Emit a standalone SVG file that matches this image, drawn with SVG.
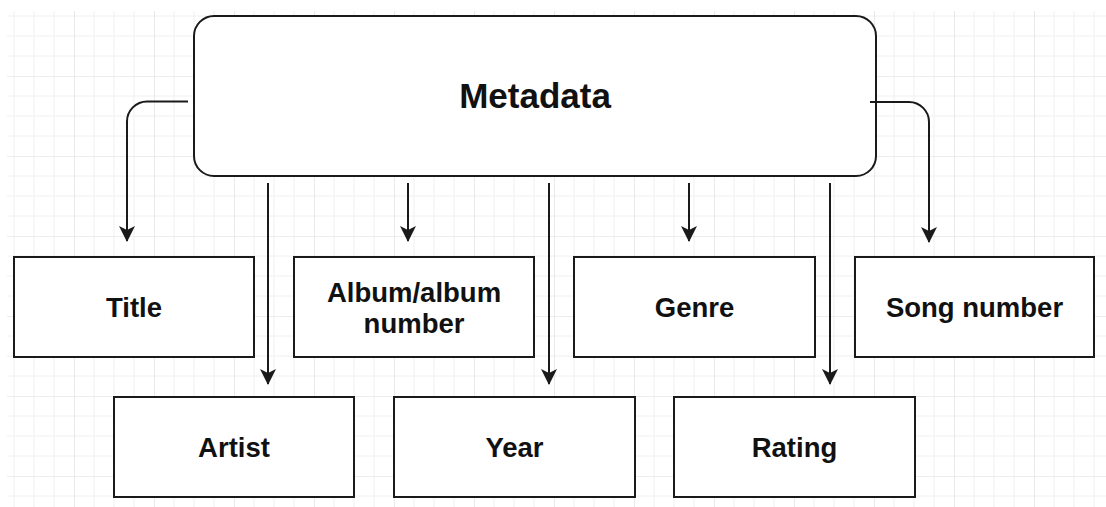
<svg xmlns="http://www.w3.org/2000/svg" width="1106" height="507" viewBox="0 0 1106 507">
  <defs>
    <!-- background grid: minor every 20px, major every 80px -->
    <pattern id="grid" patternUnits="userSpaceOnUse" x="-6" y="-4" width="80" height="80">
      <path d="M20,0V80M40,0V80M60,0V80M0,20H80M0,40H80M0,60H80" stroke="#f0f0f0" stroke-width="1" fill="none"/>
      <path d="M0,0V80M0,0H80" stroke="#dcdcdc" stroke-width="1.2" fill="none"/>
    </pattern>
    <marker id="arrow" viewBox="0 0 16 16" refX="15" refY="8" markerWidth="16" markerHeight="16" markerUnits="userSpaceOnUse" orient="auto">
      <path d="M0,0 L16,8 L0,16 L4,8 Z" fill="#1a1a1a"/>
    </marker>
    <style>
      .box { fill: #ffffff; stroke: #1a1a1a; stroke-width: 2; }
      .label { font-family: "Liberation Sans", Arial, sans-serif; font-weight: bold; font-size: 27.5px; fill: #111111; text-anchor: middle; }
      .title { font-size: 35px; }
      .edge { fill: none; stroke: #1a1a1a; stroke-width: 2; marker-end: url(#arrow); }
    </style>
  </defs>

  <rect width="1106" height="507" fill="#ffffff"/>
  <rect x="7" y="11" width="1099" height="496" fill="url(#grid)"/>

  <g id="metadata">
    <rect class="box" x="194" y="16" width="682" height="160" rx="20" ry="20"/>
    <text class="label title" x="535" y="108">Metadata</text>
  </g>

  <g id="title">
    <rect class="box" x="14" y="257" width="240" height="100"/>
    <text class="label" x="134" y="317">Title</text>
  </g>

  <g id="album">
    <rect class="box" x="294" y="257" width="240" height="100"/>
    <text class="label" x="414" y="302">Album/album</text>
    <text class="label" x="414" y="333">number</text>
  </g>

  <g id="genre">
    <rect class="box" x="574" y="257" width="241" height="100"/>
    <text class="label" x="694.5" y="317">Genre</text>
  </g>

  <g id="song-number">
    <rect class="box" x="855" y="257" width="239" height="100"/>
    <text class="label" x="974.5" y="317">Song number</text>
  </g>

  <g id="artist">
    <rect class="box" x="114" y="397" width="240" height="100"/>
    <text class="label" x="234" y="457">Artist</text>
  </g>

  <g id="year">
    <rect class="box" x="394" y="397" width="241" height="100"/>
    <text class="label" x="514.5" y="457">Year</text>
  </g>

  <g id="rating">
    <rect class="box" x="674" y="397" width="241" height="100"/>
    <text class="label" x="794.5" y="457">Rating</text>
  </g>

  <g id="connectors">
    <path class="edge" d="M188,101.5 H147 A20,20 0 0 0 127,121.5 V241"/>
    <path class="edge" d="M268,183 V384"/>
    <path class="edge" d="M408,183 V241"/>
    <path class="edge" d="M549,183 V384"/>
    <path class="edge" d="M689,183 V241"/>
    <path class="edge" d="M830,183 V384"/>
    <path class="edge" d="M870,102 H909 A20,20 0 0 1 929,122 V242"/>
  </g>
</svg>
